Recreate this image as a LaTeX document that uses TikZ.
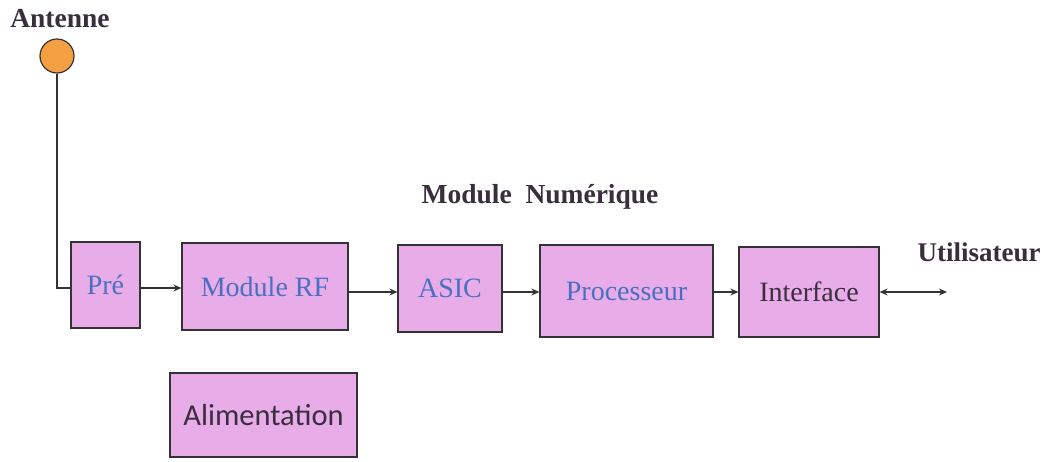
\documentclass[tikz,border=0pt]{standalone}
\usepackage{fontspec}
\setmainfont{Liberation Serif}
\newfontfamily\calib{Carlito}
\usetikzlibrary{arrows.meta,calc}
\definecolor{boxfill}{HTML}{E8ADE8}
\definecolor{bluetxt}{HTML}{4A6FC0}
\definecolor{darktxt}{HTML}{3A2E3E}
\definecolor{linec}{HTML}{333333}
\definecolor{antc}{HTML}{F4A040}
\begin{document}
\begin{tikzpicture}[x=1pt,y=-1pt,
  blk/.style={draw=linec,line width=1.2pt,fill=boxfill,inner sep=0pt,font=\fontsize{28}{32}\selectfont},
  lbl/.style={font=\fontsize{27.5}{30}\selectfont\bfseries,text=darktxt},
  arr/.style={draw=linec,line width=2pt,-{Stealth[length=8pt,width=7pt]}},
  darr/.style={draw=linec,line width=2pt,{Stealth[length=8pt,width=7pt]}-{Stealth[length=8pt,width=7pt]}}]
\useasboundingbox (0,0) rectangle (1044,461);
\node[lbl] (antlbl) at (60,19) {Antenne};
\node[circle,draw=linec,line width=1.2pt,fill=antc,minimum size=34pt,inner sep=0pt] (ant) at (57,56) {};
\node[blk,minimum width=69pt,minimum height=86pt,text=bluetxt] (pre) at (105.5,285) {Pré};
\node[blk,minimum width=166pt,minimum height=87pt,text=bluetxt] (rf) at (265,286.5) {Module RF};
\node[blk,minimum width=104pt,minimum height=87pt,text=bluetxt] (asic) at (450,288.5) {ASIC};
\node[blk,minimum width=173pt,minimum height=92pt,text=bluetxt] (proc) at (626.5,291) {Processeur};
\node[blk,minimum width=140pt,minimum height=90pt,text=darktxt] (intf) at (809,292) {Interface};
\node[blk,minimum width=187pt,minimum height=84pt,text=darktxt,font=\calib\fontsize{30.5}{34}\selectfont] (alim) at (263.5,415) {Alimentation};
\node[lbl] (modnum) at (540,197) {Module\ \ Numérique};
\node[lbl,font=\fontsize{27}{30}\selectfont\bfseries] (user) at (979,252) {Utilisateur};
\coordinate (corner) at (57,288);
\coordinate (yA) at (0,288);
\coordinate (yB) at (0,292);
\coordinate (uend) at (947,292);
\draw[linec,line width=2pt] (ant.south) -- (corner) -- (pre.west |- corner);
\draw[arr] (pre.east |- yA) -- (rf.west |- yA);
\draw[arr] (rf.east |- yB) -- (asic.west |- yB);
\draw[arr] (asic.east |- yB) -- (proc.west |- yB);
\draw[arr] (proc.east |- yB) -- (intf.west |- yB);
\draw[darr] (intf.east |- yB) -- (uend);
\end{tikzpicture}
\end{document}
